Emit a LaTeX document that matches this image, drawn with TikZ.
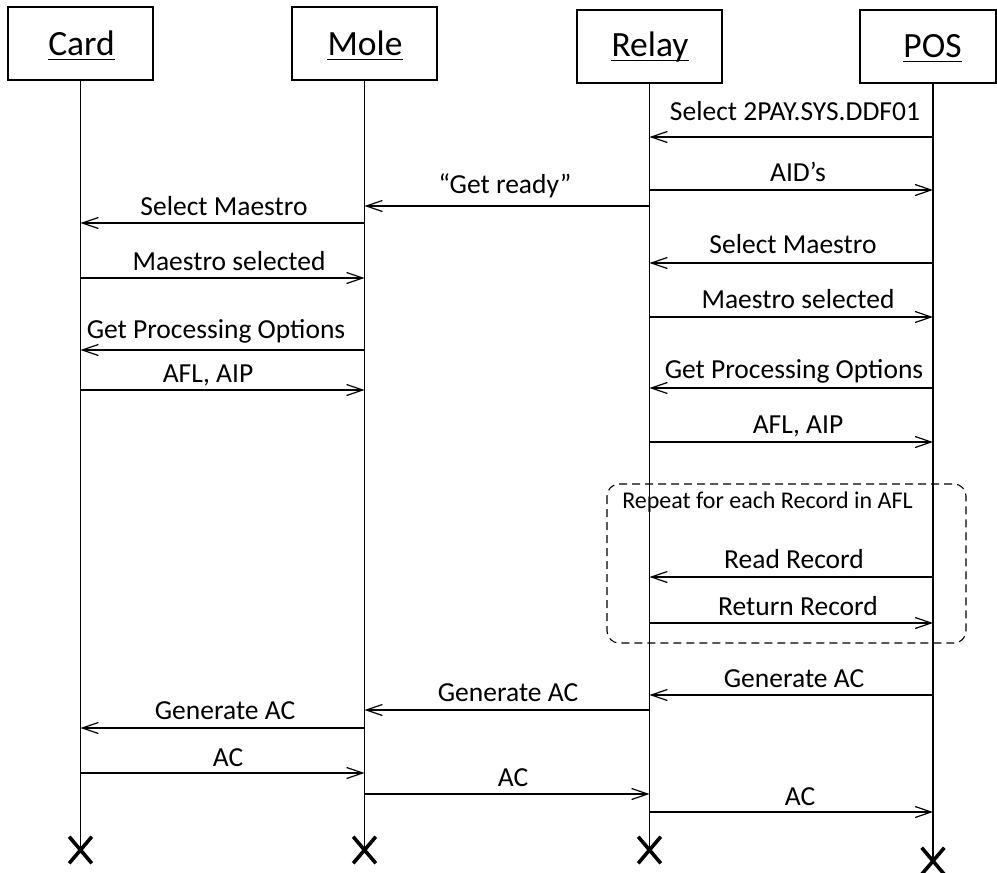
\documentclass[tikz,border=0pt]{standalone}
\usepackage{fontspec}
\setmainfont{Carlito}
\usetikzlibrary{arrows.meta,shapes.misc}
\begin{document}
\begin{tikzpicture}[x=1pt,y=-1pt,
  actor/.style={draw, line width=1.2pt, minimum width=145pt, minimum height=73pt, inner sep=0pt},
  ttl/.style={font=\fontsize{35.5}{40}\selectfont, inner sep=0pt, anchor=base},
  life/.style={line width=1.1pt},
  msg/.style={line width=1.2pt, -{Straight Barb[length=16pt,width=11pt]}},
  lbl/.style={font=\fontsize{27.5}{32}\selectfont, inner sep=0pt, anchor=base},
  smalllbl/.style={font=\fontsize{24}{28}\selectfont, inner sep=0pt, anchor=base},
  endx/.style={cross out, draw, line width=3.6pt, minimum width=19pt, minimum height=23pt, inner sep=0pt},
  loopbox/.style={draw, dash pattern=on 8pt off 5pt, rounded corners=12pt, line width=1.1pt},
  ulin/.style={line width=1.6pt}]
\useasboundingbox (0,0) rectangle (997,873);

% actor boxes
\node[actor] (card) at (80.5,43.5) {};
\node[actor] (mole) at (364.5,43.5) {};
\node[actor] (relay) at (649.5,46.5) {};
\node[actor, minimum width=136pt] (pos) at (928,46.5) {};

% titles
\node[ttl] (cardT) at (81.5,55) {Card};
\node[ttl] (moleT) at (365,55) {Mole};
\node[ttl] (relayT) at (650,56) {Relay};
\node[ttl] (posT) at (932.5,57) {POS};
\foreach \t in {cardT,moleT,relayT,posT}
  \draw[ulin] ([yshift=-4.5pt]\t.base west) -- ([yshift=-4.5pt]\t.base east);

% end marks
\node[endx] (cardX) at (80.5,850) {};
\node[endx] (moleX) at (364.5,850) {};
\node[endx] (relayX) at (649.5,850) {};
\node[endx] (posX) at (933,861) {};

% lifelines
\coordinate (cL) at (card.south);
\coordinate (mL) at (mole.south);
\coordinate (rL) at (relay.south);
\coordinate (pL) at (pos.south -| posX);
\draw[life] (cL) -- (cardX.center);
\draw[life] (mL) -- (moleX.center);
\draw[life] (rL) -- (relayX.center);
\draw[life] (pL) -- (posX.center);

% messages
\draw[msg] (pL |- 0,137) -- (rL |- 0,137);
\node[lbl] (m1) at (795,120) {Select 2PAY.SYS.DDF01};
\draw[msg] (rL |- 0,190) -- (pL |- 0,190);
\node[lbl] (m2) at (798,181) {AID’s};
\draw[msg] (rL |- 0,206) -- (mL |- 0,206);
\node[lbl] (m3) at (505,193) {“Get ready”};
\draw[msg] (mL |- 0,223) -- (cL |- 0,223);
\node[lbl] (m4) at (224,215) {Select Maestro};
\draw[msg] (cL |- 0,278) -- (mL |- 0,278);
\node[lbl] (m5) at (229,270) {Maestro selected};
\draw[msg] (pL |- 0,263) -- (rL |- 0,263);
\node[lbl] (m6) at (793,253) {Select Maestro};
\draw[msg] (rL |- 0,317) -- (pL |- 0,317);
\node[lbl] (m7) at (798,308) {Maestro selected};
\draw[msg] (mL |- 0,350) -- (cL |- 0,350);
\node[lbl] (m8) at (216,338) {Get Processing Options};
\draw[msg] (cL |- 0,390) -- (mL |- 0,390);
\node[lbl] (m9) at (208,382) {AFL, AIP};
\draw[msg] (pL |- 0,388) -- (rL |- 0,388);
\node[lbl] (m10) at (794,378) {Get Processing Options};
\draw[msg] (rL |- 0,442) -- (pL |- 0,442);
\node[lbl] (m11) at (798,433) {AFL, AIP};

% loop
\draw[loopbox] (607,484) rectangle (966,643);
\node[smalllbl] (loopT) at (767.5,508) {Repeat for each Record in AFL};
\draw[msg] (pL |- 0,577) -- (rL |- 0,577);
\node[lbl] (m12) at (794,568) {Read Record};
\draw[msg] (rL |- 0,623) -- (pL |- 0,623);
\node[lbl] (m13) at (798,615) {Return Record};

% generate AC
\draw[msg] (pL |- 0,695) -- (rL |- 0,695);
\node[lbl] (m14) at (794,687) {Generate AC};
\draw[msg] (rL |- 0,710) -- (mL |- 0,710);
\node[lbl] (m15) at (508,701) {Generate AC};
\draw[msg] (mL |- 0,728) -- (cL |- 0,728);
\node[lbl] (m16) at (225,719) {Generate AC};
\draw[msg] (cL |- 0,773) -- (mL |- 0,773);
\node[lbl] (m17) at (228,766) {AC};
\draw[msg] (mL |- 0,794) -- (rL |- 0,794);
\node[lbl] (m18) at (513,786) {AC};
\draw[msg] (rL |- 0,812) -- (pL |- 0,812);
\node[lbl] (m19) at (800,805) {AC};
\end{tikzpicture}
\end{document}
